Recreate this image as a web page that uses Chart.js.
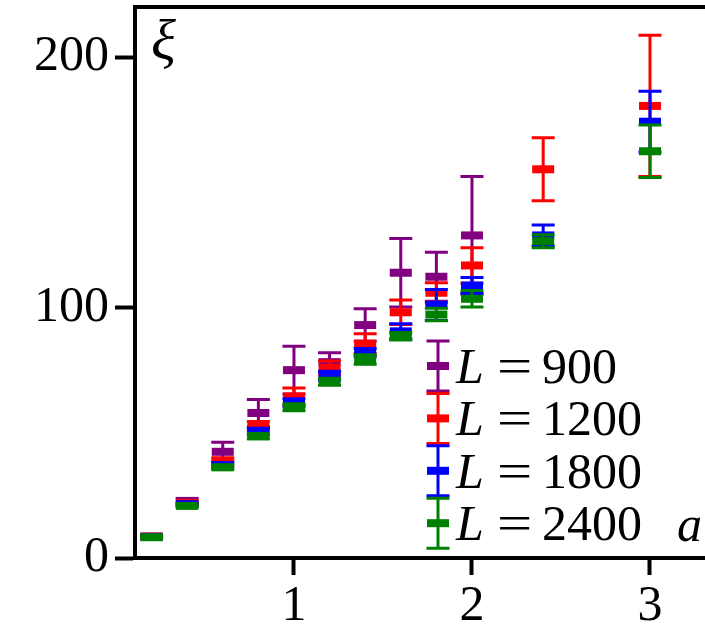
<!DOCTYPE html>
<html><head><meta charset="utf-8">
<script src="https://cdn.jsdelivr.net/npm/chart.js@4.4.1/dist/chart.umd.min.js"></script>
<style>html,body{margin:0;padding:0;background:#fff;overflow:hidden}#wrap{width:705px;height:629px;position:relative}</style>
</head><body><div id="wrap"><canvas id="c" width="705" height="629"></canvas></div>
<script>
// ---- data ----
const aFull = [0.2, 0.4, 0.6, 0.8, 1.0, 1.2, 1.4, 1.6, 1.8, 2.0, 2.4, 3.0];
const a900 = [0.2, 0.4, 0.6, 0.8, 1.0, 1.2, 1.4, 1.6, 1.8, 2.0];

const xi900  = [8.6, 22.8, 42.4, 57.9, 75.0, 78.2, 93.0, 113.9, 112.3, 128.8];
const err900 = [0.5, 1.0, 3.8, 5.4, 9.5, 3.8, 6.5, 13.7, 9.8, 23.5];

const xi1200  = [8.5, 22.0, 38.5, 52.7, 64.5, 75.9, 85.6, 98.1, 105.9, 116.8, 155.2, 180.5];
const err1200 = [0.4, 0.8, 1.5, 1.8, 3.4, 2.8, 3.9, 4.9, 4.0, 7.1, 12.6, 28.2];

const xi1800  = [8.4, 21.5, 37.0, 50.5, 62.0, 72.8, 82.0, 90.5, 101.0, 108.8, 128.8, 174.2];
const err1800 = [0.3, 0.7, 1.0, 1.3, 1.6, 1.8, 1.6, 3.0, 6.2, 3.2, 4.2, 12.2];

const xi2400  = [8.3, 20.8, 36.2, 48.6, 60.2, 70.4, 79.3, 88.5, 97.2, 103.5, 126.5, 162.4];
const err2400 = [0.3, 0.6, 0.8, 1.0, 1.4, 1.4, 1.9, 1.5, 2.5, 3.3, 2.6, 10.5];

const seriesLabels = ['900', '1200', '1800', '2400'];
const seriesColors = ['#800080', '#ff0000', '#0000ff', '#008000'];

const xTicks = [1, 2, 3];
const yTicks = [0, 100, 200];
const xMin = 0.107, xMax = 3.309;
const yMin = 0, yMax = 220;

// ---- build ----
function pts(xs, ys, es) { return xs.map((x, i) => ({x: x, y: ys[i], e: es[i]})); }
const seriesData = [pts(a900, xi900, err900), pts(aFull, xi1200, err1200), pts(aFull, xi1800, err1800), pts(aFull, xi2400, err2400)];

const FONT = "'Liberation Serif', 'DejaVu Serif', serif";

const datasets = seriesData.map((d, i) => ({
  label: 'L=' + seriesLabels[i],
  data: d,
  order: 4 - i,
  showLine: false,
  pointStyle: 'line',
  pointRadius: 11,
  pointHoverRadius: 11,
  pointBorderWidth: 8,
  pointHoverBorderWidth: 8,
  borderColor: seriesColors[i],
  backgroundColor: seriesColors[i],
  clip: false
}));

function drawBar(ctx, x, yLo, yHi, color) {
  ctx.save();
  ctx.strokeStyle = color;
  ctx.lineWidth = 3;
  ctx.beginPath();
  ctx.moveTo(x, yLo); ctx.lineTo(x, yHi);
  ctx.moveTo(x - 11.5, yLo); ctx.lineTo(x + 11.5, yLo);
  ctx.moveTo(x - 11.5, yHi); ctx.lineTo(x + 11.5, yHi);
  ctx.stroke();
  ctx.restore();
}

const errorBars = {
  id: 'errorBars',
  beforeDatasetDraw(chart, args) {
    const ds = chart.data.datasets[args.index];
    const xs = chart.scales.x, ys = chart.scales.y, ctx = chart.ctx;
    ds.data.forEach(p => {
      const x = xs.getPixelForValue(p.x);
      drawBar(ctx, x, ys.getPixelForValue(p.y - p.e), ys.getPixelForValue(p.y + p.e), ds.borderColor);
    });
  }
};

const decor = {
  id: 'decor',
  afterDraw(chart) {
    const ctx = chart.ctx, ca = chart.chartArea;
    ctx.save();
    // top frame line
    ctx.strokeStyle = '#000'; ctx.lineWidth = 4;
    ctx.beginPath(); ctx.moveTo(ca.left - 2, ca.top); ctx.lineTo(ca.right + 2, ca.top); ctx.stroke();
    // axis labels
    ctx.fillStyle = '#000';
    ctx.textBaseline = 'alphabetic';
    ctx.font = 'italic 58px ' + FONT;
    ctx.fillText('ξ', ca.left + 16, ca.top + 52);
    ctx.font = 'italic 50px ' + FONT;
    ctx.fillText('a', 677, 541);
    // legend
    const lx = 438, top0 = 341, rowH = 52.4;
    seriesLabels.forEach((lab, i) => {
      const t = top0 + i * rowH, b = t + 50, m = (t + b) / 2;
      drawBar(ctx, lx, b, t, seriesColors[i]);
      ctx.fillStyle = seriesColors[i];
      ctx.fillRect(lx - 11, m - 4, 22, 8);
      ctx.fillStyle = '#000';
      const base = t + 42;
      ctx.font = 'italic 50px ' + FONT;
      ctx.fillText('L', 456, base);
      ctx.font = '50px ' + FONT;
      ctx.save();
      ctx.translate(497, base);
      ctx.scale(1.25, 1);
      ctx.fillText('=', 0, 0);
      ctx.restore();
      ctx.fillText(lab, 542, base);
    });
    ctx.restore();
  }
};

function noPad(s) { s.paddingTop = 0; s.paddingBottom = 0; s.paddingLeft = 0; s.paddingRight = 0; }

new Chart(document.getElementById('c'), {
  type: 'scatter',
  data: { datasets: datasets },
  plugins: [errorBars, decor],
  options: {
    responsive: false,
    animation: false,
    events: [],
    layout: { autoPadding: false, padding: { top: 7, right: 0, left: 0, bottom: 0 } },
    plugins: { legend: { display: false }, tooltip: { enabled: false } },
    scales: {
      x: {
        type: 'linear', min: xMin, max: xMax,
        border: { display: true, color: '#000', width: 4 },
        grid: { display: true, drawOnChartArea: false, drawTicks: true, tickLength: 17, tickWidth: 4, tickColor: '#000', color: '#000' },
        ticks: { color: '#000', font: { family: FONT, size: 50 }, padding: 2, maxRotation: 0, autoSkip: false },
        afterBuildTicks: s => { s.ticks = xTicks.map(v => ({ value: v })); },
        afterFit: s => { s.height = 71; noPad(s); }
      },
      y: {
        type: 'linear', min: yMin, max: yMax,
        border: { display: true, color: '#000', width: 4 },
        grid: { display: true, drawOnChartArea: false, drawTicks: true, tickLength: 20, tickWidth: 4, tickColor: '#000', color: '#000' },
        ticks: { color: '#000', font: { family: FONT, size: 50 }, padding: 6, autoSkip: false },
        afterBuildTicks: s => { s.ticks = yTicks.map(v => ({ value: v })); },
        afterFit: s => { s.width = 135; noPad(s); }
      }
    }
  }
});
</script></body></html>
